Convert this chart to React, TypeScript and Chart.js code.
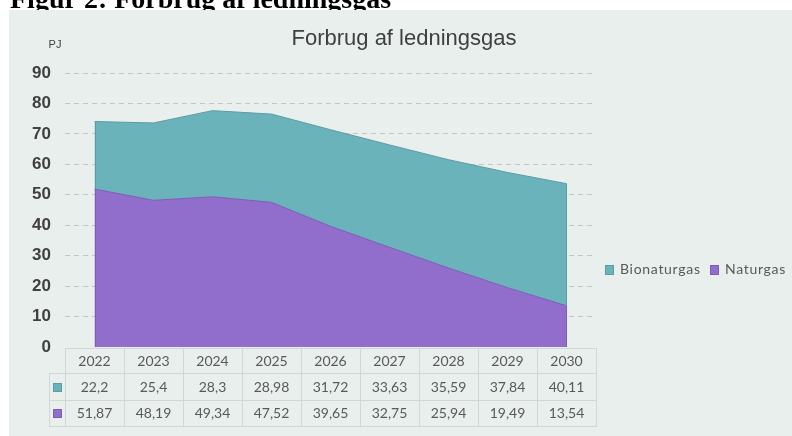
import React, { useEffect, useRef } from "react";
import { Chart, registerables } from "chart.js";

Chart.register(...registerables);

// ---- data ----
const years = ["2022", "2023", "2024", "2025", "2026", "2027", "2028", "2029", "2030"];
const bionaturgas = [22.2, 25.4, 28.3, 28.98, 31.72, 33.63, 35.59, 37.84, 40.11];
const naturgas = [51.87, 48.19, 49.34, 47.52, 39.65, 32.75, 25.94, 19.49, 13.54];
const seriesNames = ["Bionaturgas", "Naturgas"];
const yMin = 0;
const yMax = 90;
const yStep = 10;
const figureTitle = "Figur 2: Forbrug af ledningsgas";
const chartTitle = "Forbrug af ledningsgas";
const unitLabel = "PJ";

// ---- styles ----
const W = 792;
const H = 436;
const PANEL = "#e9efed";
const TEAL = "#6bb3bb";
const TEAL_LINE = "#5a9ca4";
const PURPLE = "#916dcc";
const PURPLE_LINE = "#7d5bb8";
const GRID = "#c3c7c6";
const TABLE_LINE = "#d2d6d5";
const TEXT = "#595959";
const DARK = "#404040";
const SANS = '"Liberation Sans", Arial, sans-serif';
const TABLE_FONT = 'Lato, "Open Sans", sans-serif';

const fmt = (v: number) => String(v).replace(".", ",");

const decor = {
  id: "decor",
  beforeDraw(chart: any) {
    const ctx = chart.ctx as CanvasRenderingContext2D;
    ctx.save();
    ctx.fillStyle = "#ffffff";
    ctx.fillRect(0, 0, W, H);
    ctx.fillStyle = "#000000";
    ctx.font = 'bold 28px "Liberation Serif", "Times New Roman", serif';
    ctx.textAlign = "left";
    ctx.textBaseline = "alphabetic";
    ctx.fillText(figureTitle, 10, 7.5);
    ctx.fillStyle = PANEL;
    ctx.fillRect(9, 10, W - 9, H - 10);
    ctx.fillStyle = DARK;
    ctx.font = "22px " + SANS;
    ctx.textAlign = "center";
    ctx.fillText(chartTitle, 404, 44.5);
    ctx.font = "11px " + SANS;
    ctx.fillText(unitLabel, 55, 48);
    ctx.restore();
  },
  afterDatasetsDraw(chart: any) {
    // outline the vertical edges of the stacked areas, as the original does
    const ctx = chart.ctx as CanvasRenderingContext2D;
    const xs = chart.scales.x;
    const ys = chart.scales.y;
    const last = years.length - 1;
    ctx.save();
    ctx.lineWidth = 1;
    for (const i of [0, last]) {
      const x = Math.round(xs.getPixelForValue(i)) + (i === 0 ? 0.5 : -0.5);
      const y0 = ys.getPixelForValue(0);
      const y1 = ys.getPixelForValue(naturgas[i]);
      const y2 = ys.getPixelForValue(naturgas[i] + bionaturgas[i]);
      ctx.strokeStyle = PURPLE_LINE;
      ctx.beginPath();
      ctx.moveTo(x, y0);
      ctx.lineTo(x, y1);
      ctx.stroke();
      ctx.strokeStyle = TEAL_LINE;
      ctx.beginPath();
      ctx.moveTo(x, y1);
      ctx.lineTo(x, y2);
      ctx.stroke();
    }
    ctx.restore();
  },
  afterDraw(chart: any) {
    const ctx = chart.ctx as CanvasRenderingContext2D;
    const area = chart.chartArea;
    const xs = chart.scales.x;
    const n = years.length;
    const colW = (area.right - area.left) / n;
    const r0 = Math.round(area.bottom) + 1;
    const r1 = r0 + 25;
    const r2 = r0 + 52;
    const r3 = r0 + 78;
    const keyL = 49;
    ctx.save();
    ctx.strokeStyle = TABLE_LINE;
    ctx.lineWidth = 1;
    ctx.beginPath();
    ctx.moveTo(area.left, r0 + 0.5);
    ctx.lineTo(area.right, r0 + 0.5);
    for (const y of [r1, r2, r3]) {
      ctx.moveTo(keyL, y + 0.5);
      ctx.lineTo(area.right, y + 0.5);
    }
    for (let i = 0; i <= n; i++) {
      const x = Math.round(xs.getPixelForValue(0) - colW / 2 + i * colW) + 0.5;
      ctx.moveTo(x, r0);
      ctx.lineTo(x, r3 + 1);
    }
    ctx.moveTo(keyL + 0.5, r1);
    ctx.lineTo(keyL + 0.5, r3 + 1);
    ctx.stroke();

    const rows = [
      { data: bionaturgas, color: TEAL, line: TEAL_LINE, y0: r1, y1: r2 },
      { data: naturgas, color: PURPLE, line: PURPLE_LINE, y0: r2, y1: r3 },
    ];
    ctx.font = "14px " + TABLE_FONT;
    ctx.textAlign = "center";
    ctx.textBaseline = "middle";
    for (const row of rows) {
      const cy = (row.y0 + row.y1) / 2 + 0.5;
      row.data.forEach((v, i) => {
        ctx.fillStyle = TEXT;
        ctx.fillText(fmt(v), xs.getPixelForValue(i), cy);
      });
      ctx.fillStyle = row.color;
      ctx.fillRect(53, Math.round(cy - 4.5), 9, 9);
      ctx.strokeStyle = row.line;
      ctx.strokeRect(53.5, Math.round(cy - 4.5) + 0.5, 8, 8);
    }

    // legend
    const ly = 269.5;
    const items = [
      { name: seriesNames[0], color: TEAL, line: TEAL_LINE, x: 605 },
      { name: seriesNames[1], color: PURPLE, line: PURPLE_LINE, x: 710 },
    ];
    ctx.font = "14px " + TABLE_FONT;
    ctx.textAlign = "left";
    (ctx as any).letterSpacing = "0.7px";
    for (const it of items) {
      ctx.fillStyle = it.color;
      ctx.fillRect(it.x, Math.round(ly - 5), 9, 10);
      ctx.strokeStyle = it.line;
      ctx.strokeRect(it.x + 0.5, Math.round(ly - 5) + 0.5, 8, 9);
      ctx.fillStyle = TEXT;
      ctx.fillText(it.name, it.x + 15, ly);
    }
    (ctx as any).letterSpacing = "0px";
    ctx.restore();
  },
};

export default function App() {
  const ref = useRef<HTMLCanvasElement | null>(null);
  useEffect(() => {
    if (!ref.current) return;
    const chart = new Chart(ref.current, {
      type: "line",
      data: {
        labels: years,
        datasets: [
          {
            label: seriesNames[1],
            data: naturgas,
            backgroundColor: PURPLE,
            borderColor: PURPLE_LINE,
            borderWidth: 1,
            pointRadius: 0,
            tension: 0,
            fill: "origin",
          },
          {
            label: seriesNames[0],
            data: bionaturgas,
            backgroundColor: TEAL,
            borderColor: TEAL_LINE,
            borderWidth: 1,
            pointRadius: 0,
            tension: 0,
            fill: "-1",
          },
        ],
      },
      options: {
        responsive: false,
        animation: false,
        devicePixelRatio: 1,
        layout: { padding: { top: 73, right: 196, left: 0, bottom: 0 } },
        plugins: {
          legend: { display: false },
          title: { display: false },
          tooltip: { enabled: false },
        },
        scales: {
          x: {
            type: "category",
            offset: true,
            grid: { display: false, drawTicks: false },
            border: { display: false },
            ticks: {
              color: TEXT,
              font: { family: TABLE_FONT, size: 14 },
              padding: 6,
              maxRotation: 0,
              autoSkip: false,
            },
            afterFit: (s: any) => {
              s.height = 89;
            },
          },
          y: {
            stacked: true,
            min: yMin,
            max: yMax,
            grid: {
              drawTicks: false,
              color: (c: any) => (c.tick && c.tick.value === 0 ? "rgba(0,0,0,0)" : GRID),
              lineWidth: 1,
            },
            border: { display: false, dash: [5, 4] },
            ticks: {
              stepSize: yStep,
              color: DARK,
              font: { family: SANS, size: 17, weight: "bold" },
              padding: 14,
            },
            afterFit: (s: any) => {
              s.width = 65;
            },
          },
        },
      },
      plugins: [decor],
    });
    return () => chart.destroy();
  }, []);
  return (
    <div style={{ position: "fixed", left: 0, top: 0, width: W, height: H, background: "#fff" }}>
      <canvas ref={ref} width={W} height={H} style={{ display: "block", width: W, height: H }} />
    </div>
  );
}
